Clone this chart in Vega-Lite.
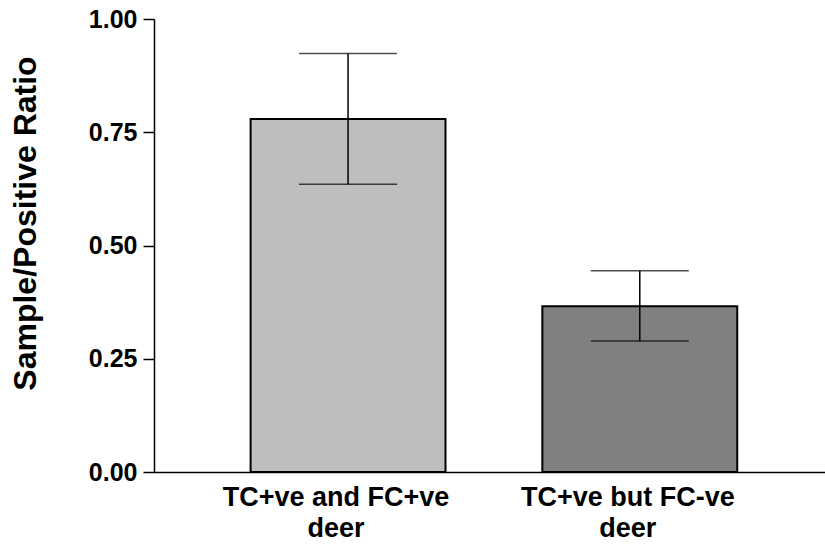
{
  "$schema": "https://vega.github.io/schema/vega-lite/v6.json",
  "autosize": {"type": "none"},
  "padding": {"left": 154, "top": 19, "right": 0, "bottom": 75},
  "width": 671,
  "height": 453,
  "background": "white",
  "config": {"view": {"stroke": null}},
  "data": {
    "values": [
      {"group": "TC+ve and FC+ve|deer", "value": 0.779, "lo": 0.635, "hi": 0.924},
      {"group": "TC+ve but FC-ve|deer", "value": 0.366, "lo": 0.289, "hi": 0.444}
    ]
  },
  "encoding": {
    "x": {
      "field": "group",
      "type": "nominal",
      "sort": null,
      "scale": {"paddingInner": 0.332, "paddingOuter": 0.316, "align": 0.524},
      "axis": {
        "title": null,
        "labelAngle": 0,
        "labelExpr": "split(datum.label, '|')",
        "labelFont": "Liberation Sans",
        "labelFontSize": 27,
        "labelFontWeight": "bold",
        "labelColor": "black",
        "labelLineHeight": 31,
        "labelPadding": 12,
        "labelOffset": -12,
        "labelLimit": 0,
        "labelOverlap": false,
        "ticks": false,
        "tickSize": 0,
        "domainColor": "black",
        "domainWidth": 1.5,
        "grid": false
      }
    }
  },
  "layer": [
    {
      "mark": {"type": "bar", "stroke": "black", "strokeWidth": 2},
      "encoding": {
        "y": {
          "field": "value",
          "type": "quantitative",
          "scale": {"domain": [0, 1], "nice": false, "zero": true},
          "axis": {
            "title": "Sample/Positive Ratio",
            "titleFont": "Liberation Sans",
            "titleFontSize": 32,
            "titleFontWeight": "bold",
            "titleColor": "black",
            "titleAngle": -90,
            "titleAlign": "center",
            "titleBaseline": "middle",
            "titleX": -129,
            "titleY": 204,
            "values": [0, 0.25, 0.5, 0.75, 1],
            "format": ".2f",
            "labelFont": "Liberation Sans",
            "labelFontSize": 25,
            "labelFontWeight": "bold",
            "labelColor": "black",
            "labelPadding": 6,
            "tickSize": 11,
            "tickWidth": 1.5,
            "tickColor": "black",
            "domainColor": "black",
            "domainWidth": 1.5,
            "grid": false
          }
        },
        "fill": {
          "field": "group",
          "type": "nominal",
          "scale": {"range": ["#bebebe", "#808080"]},
          "legend": null
        }
      }
    },
    {
      "mark": {"type": "rule", "color": "black", "strokeWidth": 1.5},
      "encoding": {
        "y": {"field": "lo", "type": "quantitative"},
        "y2": {"field": "hi"}
      }
    },
    {
      "mark": {"type": "tick", "color": "black", "thickness": 1.5, "size": 98},
      "encoding": {"y": {"field": "lo", "type": "quantitative"}}
    },
    {
      "mark": {"type": "tick", "color": "black", "thickness": 1.5, "size": 98},
      "encoding": {"y": {"field": "hi", "type": "quantitative"}}
    }
  ]
}
